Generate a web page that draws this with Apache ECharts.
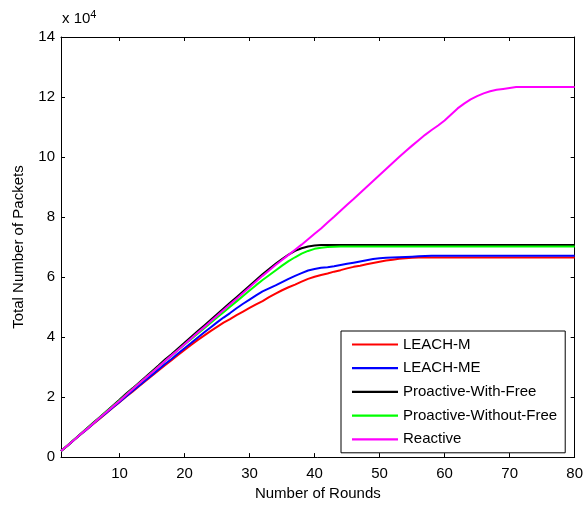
<!DOCTYPE html>
<html><head><meta charset="utf-8">
<script src="https://cdn.jsdelivr.net/npm/echarts@6/dist/echarts.min.js"></script>
<style>html,body{margin:0;padding:0;background:#fff}#c{width:586px;height:506px}</style>
</head><body><div id="c"></div>
<script>
const rounds = [1,2,3,4,5,6,7,8,9,10,11,12,13,14,15,16,17,18,19,20,21,22,23,24,25,26,27,28,29,30,31,32,33,34,35,36,37,38,39,40,41,42,43,44,45,46,47,48,49,50,51,52,53,54,55,56,57,58,59,60,61,62,63,64,65,66,67,68,69,70,71,72,73,74,75,76,77,78,79,80];
const seriesNames = ['LEACH-M','LEACH-ME','Proactive-With-Free','Proactive-Without-Free','Reactive'];
const xTicks = [10,20,30,40,50,60,70,80];
const yTicks = [0,2,4,6,8,10,12,14];
// values in units of 10^4 packets
const leachM = [0.20,0.38,0.57,0.75,0.93,1.11,1.29,1.47,1.65,1.83,
 2.01,2.18,2.36,2.54,2.71,2.89,3.06,3.23,3.40,3.57,
 3.74,3.90,4.05,4.20,4.34,4.48,4.60,4.73,4.85,4.97,
 5.09,5.20,5.33,5.45,5.56,5.66,5.75,5.85,5.94,6.01,
 6.07,6.12,6.18,6.23,6.29,6.34,6.38,6.43,6.47,6.51,
 6.55,6.58,6.61,6.63,6.64,6.65,6.65,6.65,6.65,6.65,
 6.65,6.65,6.65,6.65,6.65,6.65,6.65,6.65,6.65,6.65,
 6.65,6.65,6.65,6.65,6.65,6.65,6.65,6.65,6.65,6.65];
const leachME = [0.20,0.38,0.57,0.75,0.93,1.12,1.30,1.48,1.66,1.84,
 2.02,2.20,2.38,2.56,2.74,2.92,3.10,3.27,3.45,3.63,
 3.80,3.98,4.15,4.32,4.49,4.65,4.80,4.96,5.11,5.25,
 5.39,5.52,5.62,5.72,5.83,5.94,6.04,6.13,6.22,6.27,
 6.31,6.33,6.36,6.40,6.44,6.48,6.52,6.56,6.60,6.63,
 6.64,6.65,6.66,6.67,6.68,6.69,6.70,6.71,6.71,6.71,
 6.71,6.71,6.71,6.71,6.71,6.71,6.71,6.71,6.71,6.71,
 6.71,6.71,6.71,6.71,6.71,6.71,6.71,6.71,6.71,6.71];
const proWithFree = [0.20,0.39,0.58,0.77,0.96,1.15,1.34,1.53,1.72,1.91,
 2.11,2.29,2.48,2.67,2.86,3.05,3.25,3.43,3.62,3.81,
 4.00,4.19,4.38,4.57,4.76,4.95,5.14,5.33,5.52,5.71,
 5.90,6.09,6.27,6.44,6.60,6.75,6.87,6.96,7.02,7.05,
 7.07,7.07,7.07,7.07,7.07,7.07,7.07,7.07,7.07,7.07,
 7.07,7.07,7.07,7.07,7.07,7.07,7.07,7.07,7.07,7.07,
 7.07,7.07,7.07,7.07,7.07,7.07,7.07,7.07,7.07,7.07,
 7.07,7.07,7.07,7.07,7.07,7.07,7.07,7.07,7.07,7.07];
const proWithoutFree = [0.20,0.39,0.58,0.76,0.95,1.14,1.33,1.52,1.70,1.89,
 2.08,2.27,2.45,2.64,2.83,3.01,3.20,3.38,3.57,3.75,
 3.93,4.11,4.29,4.47,4.65,4.83,5.01,5.19,5.37,5.55,
 5.73,5.90,6.06,6.22,6.38,6.53,6.66,6.78,6.87,6.94,
 6.98,7.00,7.01,7.02,7.02,7.02,7.02,7.02,7.02,7.02,
 7.02,7.02,7.02,7.02,7.02,7.02,7.02,7.02,7.02,7.02,
 7.02,7.02,7.02,7.02,7.02,7.02,7.02,7.02,7.02,7.02,
 7.02,7.02,7.02,7.02,7.02,7.02,7.02,7.02,7.02,7.02];
const reactive = [0.20,0.39,0.57,0.76,0.94,1.13,1.32,1.50,1.69,1.87,
 2.07,2.26,2.45,2.64,2.82,3.01,3.20,3.39,3.57,3.76,
 3.95,4.14,4.33,4.52,4.71,4.90,5.09,5.28,5.47,5.66,
 5.85,6.04,6.22,6.40,6.57,6.74,6.91,7.08,7.26,7.44,
 7.62,7.82,8.01,8.21,8.41,8.60,8.80,9.00,9.20,9.40,
 9.60,9.80,10.00,10.19,10.38,10.56,10.74,10.90,11.05,11.22,
 11.42,11.62,11.78,11.92,12.03,12.12,12.19,12.24,12.27,12.30,
 12.33,12.33,12.33,12.33,12.33,12.33,12.33,12.33,12.33,12.33];
const colors = ['#ff0000','#0000ff','#000000','#00ff00','#ff00ff'];
const allData = [leachM, leachME, proWithFree, proWithoutFree, reactive];

const FONT = '"Liberation Sans", Arial, sans-serif';
const chart = echarts.init(document.getElementById('c'), null, {renderer:'canvas'});
const axisLineStyle = {color:'#000', width:1};
function xAx(pos, showLabel){
  return {type:'value', min:1, max:80, position:pos,
    axisLine:{show:true, onZero:false, lineStyle:axisLineStyle},
    axisTick:{show:true, inside:true, length:4, customValues:xTicks, lineStyle:axisLineStyle},
    axisLabel:{show:showLabel, customValues:xTicks, color:'#000', fontSize:15, fontFamily:FONT, margin:9},
    splitLine:{show:false},
    name: showLabel ? 'Number of Rounds' : '', nameLocation:'middle', nameGap:27,
    nameTextStyle:{color:'#000', fontSize:15, fontFamily:FONT}};
}
function yAx(pos, showLabel){
  return {type:'value', min:0, max:14, interval:2, position:pos,
    axisLine:{show:true, onZero:false, lineStyle:axisLineStyle},
    axisTick:{show:true, inside:true, length:4, lineStyle:axisLineStyle},
    axisLabel:{show:showLabel, color:'#000', fontSize:15, fontFamily:FONT, margin:6},
    splitLine:{show:false},
    name: showLabel ? 'Total Number of Packets' : '', nameLocation:'middle', nameGap:35,
    nameTextStyle:{color:'#000', fontSize:15, fontFamily:FONT}};
}
const option = {
  animation:false,
  backgroundColor:'#fff',
  grid:{left:61, right:8, top:37, bottom:44},
  xAxis:[xAx('bottom', true), xAx('top', false)],
  yAxis:[yAx('left', true), yAx('right', false)],
  legend:{
    orient:'vertical', left:341, top:331,
    data:seriesNames,
    itemWidth:46, itemHeight:14, itemGap:8.7,
    padding:[6,8,6,11],
    borderColor:'#000', borderWidth:1, backgroundColor:'#fff',
    textStyle:{color:'#000', fontSize:15, fontFamily:FONT},
    icon:'path://M0,6 L42,6 L42,8 L0,8 Z'
  },
  graphic:[{type:'text', left:62, top:9,
    style:{text:'{a|x 10}{b|4}', rich:{a:{fontSize:15, fontFamily:FONT, fill:'#000'}, b:{fontSize:11, fontFamily:FONT, fill:'#000', verticalAlign:'top', padding:[0,0,8,0]}}}}],
  series: seriesNames.map((n,i)=>({
    name:n, type:'line', showSymbol:false, symbol:'none',
    xAxisIndex:0, yAxisIndex:0,
    color:colors[i],
    lineStyle:{color:colors[i], width:2},
    data: rounds.map((r,k)=>[r, allData[i][k]])
  }))
};
chart.setOption(option);
</script></body></html>
